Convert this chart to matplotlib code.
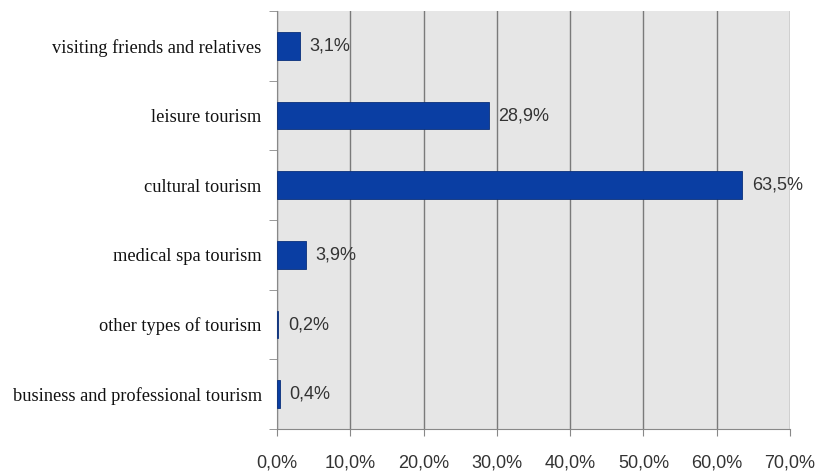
import matplotlib.pyplot as plt
import numpy as np

# data, top to bottom as in the chart
categories = ["visiting friends and relatives", "leisure tourism", "cultural tourism",
              "medical spa tourism", "other types of tourism",
              "business and professional tourism"]
values = [3.1, 28.9, 63.5, 3.9, 0.2, 0.4]
xticks = [0, 10, 20, 30, 40, 50, 60, 70]

fig = plt.figure(figsize=(8.18, 4.75), dpi=100)
ax = fig.add_axes([0.3386, 0.0968, 0.6272, 0.88])

n = len(categories)
pos = np.arange(n)[::-1]  # first category on top
ax.barh(pos, values, height=0.4, color="#0a3ea3", edgecolor="#0a2f7a", linewidth=0.6, zorder=3)

for p, v in zip(pos, values):
    ax.annotate(f"{v:.1f}%".replace(".", ","), (v, p), xytext=(7, 0), textcoords="offset points",
                va="center", ha="left", fontsize=13, family="Liberation Sans", color="#333333")

ax.set_facecolor("#e6e6e6")
ax.set_xlim(0, 70)
ax.set_ylim(-0.5, n - 0.5)

ax.set_xticks(xticks)
ax.set_xticklabels([f"{t:.1f}%".replace(".", ",") for t in xticks], fontsize=13,
                   family="Liberation Sans", color="#333333")
ax.tick_params(axis="x", length=5, color="#888888", pad=13)
ax.grid(axis="x", color="#7a7a7a", linewidth=1.0, zorder=1)

ax.set_yticks(pos)
ax.set_yticklabels(categories, fontsize=13.2, family="Liberation Serif", color="#111111")
ax.tick_params(axis="y", which="major", length=0, pad=11)
ax.set_yticks(np.arange(-0.5, n, 1.0), minor=True)
ax.tick_params(axis="y", which="minor", length=6, color="#888888")

for s in ["top", "right"]:
    ax.spines[s].set_visible(False)
for s in ["left", "bottom"]:
    ax.spines[s].set_color("#888888")

plt.savefig("out.png", dpi=100)
